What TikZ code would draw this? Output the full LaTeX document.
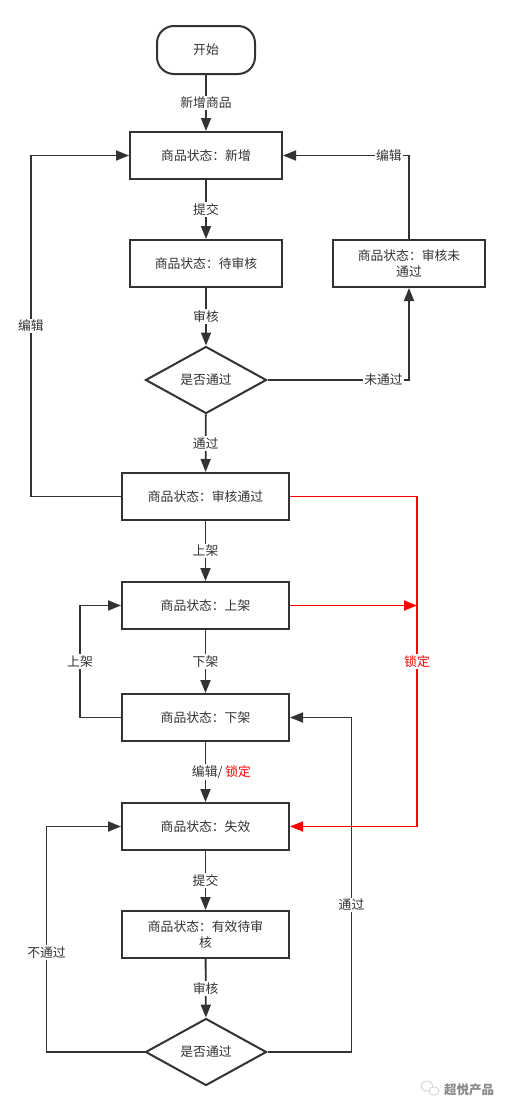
\documentclass[tikz,border=0pt]{standalone}
\usepackage{fontspec}
\setmainfont{Noto Sans CJK SC}
\usetikzlibrary{arrows.meta,shapes.geometric}
\definecolor{ink}{HTML}{333333}
\definecolor{lockred}{HTML}{FF0000}
\definecolor{wmgray}{HTML}{8A8A8A}
\begin{document}
\begin{tikzpicture}[x=1pt,y=-1pt,
  every node/.style={font=\fontsize{12.8}{16}\selectfont, text=ink},
  statebox/.style={draw=ink, line width=2pt, rectangle, minimum width=152pt, minimum height=47pt, align=center, inner sep=2pt},
  widebox/.style={statebox, minimum width=167pt},
  startbox/.style={draw=ink, line width=2pt, rectangle, rounded corners=17pt, minimum width=98pt, minimum height=48pt},
  decision/.style={draw=ink, line width=2pt, diamond, aspect=1.8, inner sep=0pt, minimum width=121pt, minimum height=67pt},
  arr/.style={draw=ink, line width=1.8pt, -{Triangle[length=13pt,width=10pt]}},
  redarr/.style={draw=lockred, line width=1.8pt, -{Triangle[length=13pt,width=10pt]}},
  lbl/.style={fill=white, inner sep=1.5pt},
  redlbl/.style={lbl, text=lockred}
]
\fill[white] (0,0) rectangle (510,1111);
\useasboundingbox (0,0) rectangle (510,1111);

% nodes
\node[startbox] (start) at (206,50) {开始};
\node[statebox] (b1) at (206,155.5) {商品状态：新增};
\node[statebox] (b2) at (206,263.5) {商品状态：待审核};
\node[statebox] (bf) at (409,263.5) {商品状态：审核未\\通过};
\node[decision] (d1) at (206,380) {是否通过};
\node[widebox] (b3) at (205.5,496.5) {商品状态：审核通过};
\node[widebox] (b4) at (205.5,605.5) {商品状态：上架};
\node[widebox] (b5) at (205.5,717.5) {商品状态：下架};
\node[widebox] (b6) at (205.5,826.5) {商品状态：失效};
\node[widebox] (b7) at (205.5,934.5) {商品状态：有效待审\\核};
\node[decision] (d2) at (206,1052) {是否通过};
\coordinate (lockline) at (417,605.5);

% main vertical flow
\draw[arr] (start) -- node[lbl]{新增商品} (b1);
\draw[arr] (b1) -- node[lbl]{提交} (b2);
\draw[arr] (b2) -- node[lbl]{审核} (d1);
\draw[arr] (d1) -- node[lbl]{通过} (b3);
\draw[arr] (b3) -- node[lbl]{上架} (b4);
\draw[arr] (b4) -- node[lbl]{下架} (b5);
\draw[arr] (b5) -- node[lbl, xshift=16pt]{编辑/ \textcolor{lockred}{锁定}} (b6);
\draw[arr] (b6) -- node[lbl]{提交} (b7);
\draw[arr] (b7) -- node[lbl]{审核} (d2);

% loops
\draw[arr] (b3.west) -- ++(-90,0) |- node[lbl, pos=0.25]{编辑} (b1.west);
\draw[arr] (d1.east) -| node[lbl, pos=0.41]{未通过} (bf.south);
\draw[arr] (bf.north) |- node[lbl, pos=0.58]{编辑} (b1.east);
\draw[arr] (b5.west) -- ++(-41,0) |- node[lbl, pos=0.25]{上架} (b4.west);
\draw[arr] (d2.east) -- ++(84,0) |- node[lbl, pos=0.22]{通过} (b5.east);
\draw[arr] (d2.west) -- ++(-98,0) |- node[lbl, pos=0.22]{不通过} (b6.west);

% red lock paths
\draw[redarr] (b3.east) -- ++(127,0) |- node[redlbl, pos=0.25]{锁定} (b6.east);
\draw[redarr] (b4.east) -- (lockline);

% watermark
\draw[wmgray!50, line width=0.6pt] (427,1086) ellipse (6pt and 5pt);
\draw[wmgray!50, line width=0.6pt, fill=white] (434,1091) ellipse (5pt and 4.2pt);
\node[text=wmgray, font=\fontsize{12.5}{14}\selectfont\bfseries] (wm) at (469,1090) {超悦产品};
\end{tikzpicture}
\end{document}
